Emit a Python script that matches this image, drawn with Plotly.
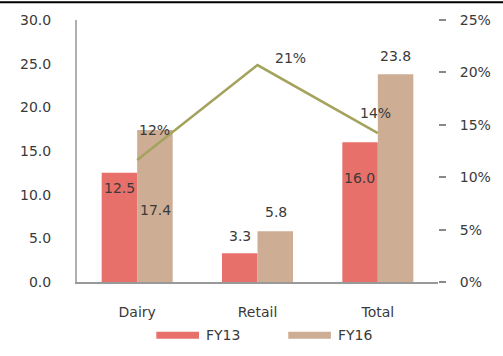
import plotly.graph_objects as go

# Revenue by segment (left axis) and growth rate (right axis)
categories = ["Dairy", "Retail", "Total"]
fy13 = [12.5, 3.3, 16.0]
fy16 = [17.4, 5.8, 23.8]
cagr = [11.65, 20.7, 14.2]          # percent
series_names = ["FY13", "FY16"]
left_ticks = [0, 5, 10, 15, 20, 25, 30]
right_ticks = [0, 5, 10, 15, 20, 25]

# label offsets (px, up is positive) relative to the top of each mark
fy13_label_dy = [-15, 17, -36]
fy16_label_dy = [-80, 19, 18]
cagr_label_dx = [17, 33, -2]
cagr_label_dy = [30, 7, 20]

RED = "#E8706A"
TAN = "#CDAD94"
OLIVE = "#A4A35E"
TXT = "#3a3a3a"
FONT = "DejaVu Sans"
FS = 14
BAR_SHIFT = 18

fig = go.Figure()
fig.add_trace(go.Bar(x=categories, y=fy13, name=series_names[0],
                     marker=dict(color=RED, line_width=0)))
fig.add_trace(go.Bar(x=categories, y=fy16, name=series_names[1],
                     marker=dict(color=TAN, line_width=0)))
fig.add_trace(go.Scatter(x=categories, y=cagr, yaxis="y2", mode="lines",
                         line=dict(color=OLIVE, width=2.5), showlegend=False))

ann = []
for i, c in enumerate(categories):
    ann.append(dict(x=c, y=fy13[i], text=f"{fy13[i]:.1f}", xshift=-BAR_SHIFT,
                    yshift=fy13_label_dy[i]))
    ann.append(dict(x=c, y=fy16[i], text=f"{fy16[i]:.1f}", xshift=BAR_SHIFT,
                    yshift=fy16_label_dy[i]))
    ann.append(dict(x=c, y=cagr[i], yref="y2", text=f"{cagr[i]:.0f}%",
                    xshift=cagr_label_dx[i], yshift=cagr_label_dy[i]))
for a in ann:
    a.update(showarrow=False, xanchor="center", yanchor="middle",
             font=dict(family=FONT, size=FS, color=TXT))
    a.setdefault("yref", "y")

# legend: wide flat keys below the axis
shapes = [dict(type="line", xref="paper", yref="paper", x0=-0.25, x1=1.25,
               y0=1.068, y1=1.068, line=dict(color="black", width=2))]
legend_x = [157, 290]
for k, (name, col) in enumerate(zip(series_names, [RED, TAN])):
    x0 = (legend_x[k] - 77) / 364
    x1 = (legend_x[k] + 43 - 77) / 364
    shapes.append(dict(type="rect", xref="paper", yref="paper", x0=x0, x1=x1,
                       y0=(282 - 339) / 263, y1=(282 - 332) / 263,
                       fillcolor=col, line_width=0))
    ann.append(dict(xref="paper", yref="paper", x=x1 + 5 / 364,
                    y=(282 - 335) / 263, text=name, showarrow=False,
                    xanchor="left", yanchor="middle",
                    font=dict(family=FONT, size=FS, color=TXT)))

fig.update_layout(
    width=503, height=356, autosize=False,
    margin=dict(l=77, r=62, t=19, b=74, pad=0),
    paper_bgcolor="white", plot_bgcolor="white",
    barmode="group", bargap=0.41, bargroupgap=0,
    showlegend=False,
    font=dict(family=FONT, size=FS, color=TXT),
    xaxis=dict(showline=True, linecolor="#999999", linewidth=2,
               showgrid=False, ticks="", ticklabelstandoff=16,
               tickfont=dict(family=FONT, size=FS, color=TXT)),
    yaxis=dict(range=[0, 30], tickvals=left_ticks,
               ticktext=[f"{v:.1f}" for v in left_ticks],
               showline=True, linecolor="#b0b0b0", linewidth=2,
               showgrid=False, zeroline=False, ticks="",
               ticklabelstandoff=21,
               tickfont=dict(family=FONT, size=FS, color=TXT)),
    yaxis2=dict(range=[0, 25], tickvals=right_ticks,
                ticktext=[f"{v}%" for v in right_ticks],
                overlaying="y", side="right", showline=False,
                showgrid=False, zeroline=False, ticks="outside",
                ticklen=7, tickcolor="#888888", tickwidth=1.5,
                ticklabelstandoff=11,
                tickfont=dict(family=FONT, size=FS, color=TXT)),
    annotations=ann,
    shapes=shapes,
)

fig.write_html("out.html")
